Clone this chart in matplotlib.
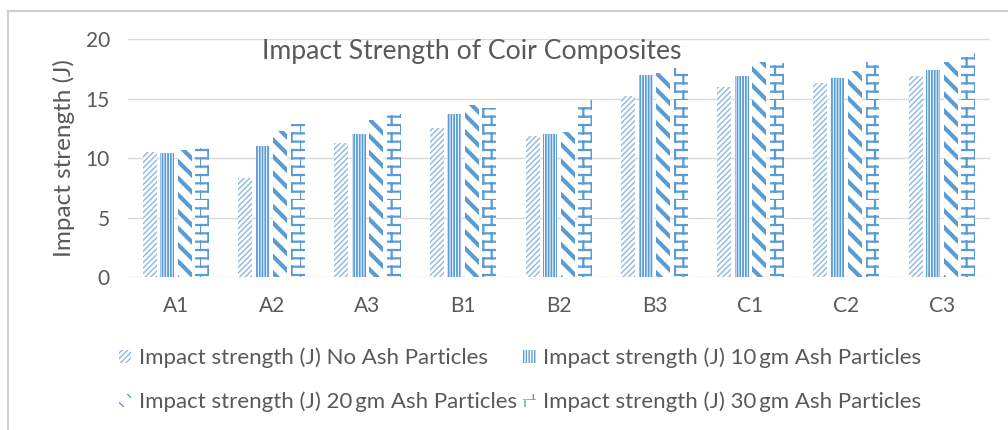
import warnings
import numpy as np
import matplotlib
matplotlib.use("Agg")
import matplotlib.pyplot as plt
import matplotlib.hatch as mhatch
from matplotlib.path import Path
from matplotlib.patches import Patch
from matplotlib.lines import Line2D

warnings.filterwarnings("ignore", message=".*hatch must consist.*")

BLUE = '#5B9BD5'
LIGHT_BLUE = '#8DB8E2'
TEXT_COLOR = '#595959'
GRID_COLOR = '#D9D9D9'

categories = ['A1', 'A2', 'A3', 'B1', 'B2', 'B3', 'C1', 'C2', 'C3']
no_ash = [10.5, 8.35, 11.25, 12.55, 11.85, 15.2, 16.0, 16.3, 16.9]
ash_10 = [10.4, 11.05, 12.0, 13.7, 12.0, 17.0, 16.9, 16.7, 17.4]
ash_20 = [10.7, 12.3, 13.2, 14.45, 12.2, 17.15, 18.1, 17.3, 18.05]
ash_30 = [10.85, 12.9, 13.7, 14.2, 14.9, 17.6, 17.95, 18.05, 18.8]

series_labels = [
    'Impact strength (J) No Ash Particles',
    'Impact strength (J) 10\u2009gm Ash Particles',
    'Impact strength (J) 20\u2009gm Ash Particles',
    'Impact strength (J) 30\u2009gm Ash Particles',
]


class BrickHatch(mhatch.HatchPatternBase):
    # brick-like pattern, like Excel's "horizontal brick" fill
    def __init__(self, hatch, density):
        self.rows = int(hatch.count('b') * density)
        self.cols = self.rows // 2
        self.num_vertices = (self.rows + self.rows * self.cols) * 2

    def set_vertices_and_codes(self, vertices, codes):
        v = []
        for i in range(self.rows):
            y0 = i / self.rows
            y1 = (i + 1) / self.rows
            v += [(0, y0), (1, y0)]
            off = 0.5 / self.cols if i % 2 else 0.0
            for k in range(self.cols):
                x = k / self.cols + off
                v += [(x, y0), (x, y1)]
        vertices[:] = v
        codes[0::2] = Path.MOVETO
        codes[1::2] = Path.LINETO


mhatch._hatch_types.append(BrickHatch)

plt.rcParams['font.family'] = ['Lato', 'DejaVu Sans']

fig = plt.figure(figsize=(10.08, 4.30), dpi=100)
ax = fig.add_axes([0.127, 0.3547, 0.855, 0.5546])

x = np.arange(len(categories))
pitch = 0.183
width = 0.146
styles = [
    (no_ash, '//////', LIGHT_BLUE, 1.0),
    (ash_10, '||||||', BLUE, 1.3),
    (ash_20, '\\\\', BLUE, 3.0),
    (ash_30, 'bb', BLUE, 1.6),
]
for i, (vals, hatch, col, hlw) in enumerate(styles):
    with plt.rc_context({'hatch.linewidth': hlw}):
        ax.bar(x + (i - 1.5) * pitch, vals, width, facecolor='white',
               edgecolor=col, linewidth=0, hatch=hatch, zorder=2)

ax.set_ylim(0, 20)
ax.set_xlim(-0.5, len(categories) - 0.5)
ax.set_yticks([0, 5, 10, 15, 20])
ax.set_xticks(x)
ax.set_xticklabels(categories)
ax.grid(axis='y', color=GRID_COLOR, linewidth=1, zorder=0)
ax.set_axisbelow(True)
for s in ax.spines.values():
    s.set_visible(False)
ax.tick_params(axis='both', length=0, colors=TEXT_COLOR, labelsize=15)
ax.tick_params(axis='x', pad=13)
ax.tick_params(axis='y', pad=13)
ax.set_ylabel('Impact strength (J)', color=TEXT_COLOR, fontsize=17.5, labelpad=8)

fig.text(472 / 1008, 1 - 52 / 430, 'Impact Strength of Coir Composites',
         ha='center', va='center', color=TEXT_COLOR, fontsize=19.2)

handles = []
for vals, hatch, col, hlw in styles:
    with plt.rc_context({'hatch.linewidth': hlw}):
        handles.append(Patch(facecolor='white', edgecolor=col, linewidth=0,
                             hatch=hatch))
# order for a 2-column legend filled column-wise
order = [0, 2, 1, 3]
fig.legend([handles[k] for k in order], [series_labels[k] for k in order],
           ncol=2, loc='center', bbox_to_anchor=(520 / 1008, 1 - 380 / 430),
           frameon=False, fontsize=16, labelcolor=TEXT_COLOR,
           handlelength=0.55, handleheight=0.55, handletextpad=0.35,
           columnspacing=0.3, labelspacing=1.05, borderpad=0.2)

# light frame around the chart area
fig.add_artist(Line2D([8 / 1008, 1], [1 - 11 / 430] * 2, color='#D0D0D0',
                      linewidth=1.5, transform=fig.transFigure))
fig.add_artist(Line2D([8 / 1008] * 2, [0, 1 - 11 / 430], color='#D0D0D0',
                      linewidth=1.5, transform=fig.transFigure))

fig.savefig('out.png', dpi=100, facecolor='white')
